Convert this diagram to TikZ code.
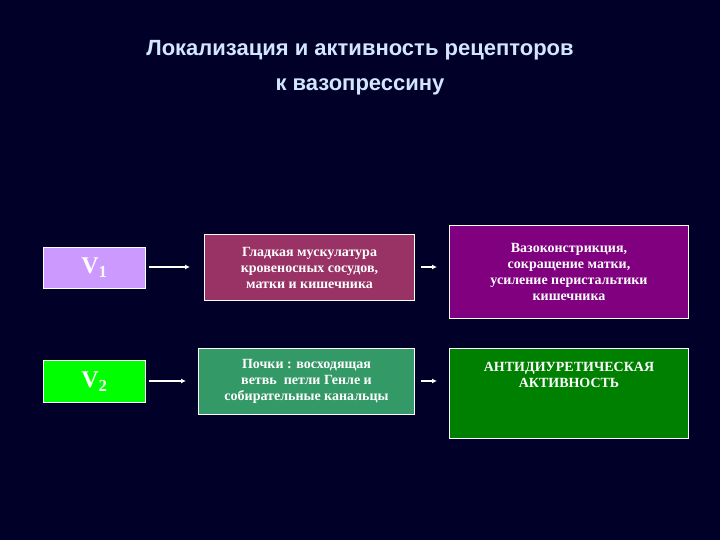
\documentclass[tikz,border=0pt]{standalone}
\usepackage{fontspec}
\setmainfont{Liberation Serif}
\newfontfamily\titlefont{Liberation Sans}
\begin{document}
\begin{tikzpicture}[x=1pt,y=-1pt,
 bx/.style={draw=white,line width=1pt,anchor=north west,inner sep=0pt,text=white,font=\bfseries\fontsize{14}{16}\selectfont,align=center},
 arr/.style={draw=white,line width=1.5pt,-{Latex[length=5pt,width=5pt]}}]
\usetikzlibrary{arrows.meta}
\fill[fill={rgb,255:red,0;green,0;blue,40}] (0,0) rectangle (720,540);
\useasboundingbox (0,0) rectangle (720,540);
\node[text={rgb,255:red,210;green,230;blue,255},font=\titlefont\bfseries\fontsize{22}{35}\selectfont,align=center] (t) at (360,68) {Локализация и активность рецепторов\\к вазопрессину};
\node[bx,fill={rgb,255:red,204;green,153;blue,255},minimum width=102pt,minimum height=41pt,font=\bfseries\fontsize{24}{26}\selectfont] (v1) at (43,247) {V\textsubscript{1}};
\node[bx,fill={rgb,255:red,153;green,51;blue,102},minimum width=210pt,minimum height=66pt] (m1) at (204,234) {Гладкая мускулатура\\кровеносных сосудов,\\матки и кишечника};
\node[bx,fill={rgb,255:red,128;green,0;blue,128},minimum width=239pt,minimum height=93pt] (r1) at (449,225) {Вазоконстрикция,\\сокращение матки,\\усиление перистальтики\\кишечника};
\node[bx,fill={rgb,255:red,0;green,255;blue,0},minimum width=102pt,minimum height=42pt,font=\bfseries\fontsize{24}{26}\selectfont] (v2) at (43,360) {V\textsubscript{2}};
\node[bx,fill={rgb,255:red,51;green,153;blue,102},minimum width=216pt,minimum height=66pt] (m2) at (198,348) {Почки : восходящая\\ветвь\ \ петли Генле и\\собирательные канальцы};
\node[bx,fill={rgb,255:red,0;green,128;blue,0},minimum width=239pt,minimum height=90pt] (r2) at (449,348) {АНТИДИУРЕТИЧЕСКАЯ\\АКТИВНОСТЬ\\[22pt]};
\coordinate (a1) at (190,267); \coordinate (a2) at (437,267);
\coordinate (a3) at (186,381); \coordinate (a4) at (437,381);
\draw[arr] (v1.east|-a1) ++(3,0) -- (a1);
\draw[arr] (m1.east|-a2) ++(6,0) -- (a2);
\draw[arr] (v2.east|-a3) ++(3,0) -- (a3);
\draw[arr] (m2.east|-a4) ++(6,0) -- (a4);
\end{tikzpicture}
\end{document}
